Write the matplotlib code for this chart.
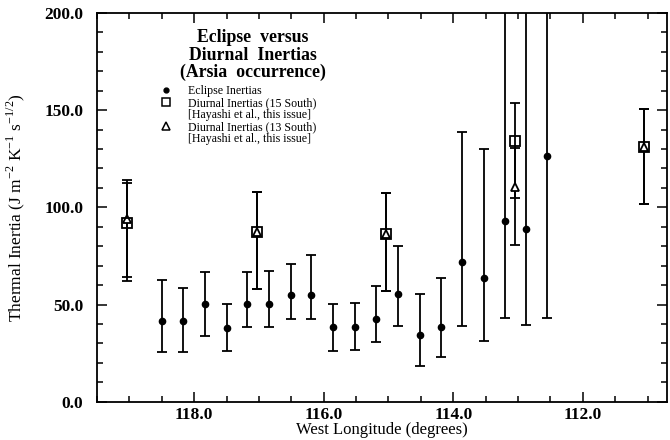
import matplotlib
matplotlib.use("Agg")
import matplotlib.pyplot as plt
from matplotlib.lines import Line2D
from matplotlib.ticker import MultipleLocator, FormatStrFormatter

plt.rcParams['font.family'] = ['Liberation Serif', 'DejaVu Serif']
plt.rcParams['mathtext.fontset'] = 'custom'
plt.rcParams['mathtext.rm'] = 'Liberation Serif'

# eclipse inertias (dots)
ecl_lon = [118.5, 118.17, 117.83, 117.5, 117.18, 116.84, 116.51, 116.19, 115.85,
           115.51, 115.19, 114.86, 114.51, 114.19, 113.87, 113.53, 113.2, 112.87, 112.56]
ecl_val = [41.6, 41.6, 50.2, 37.7, 50.5, 50.5, 54.8, 54.8, 38.2,
           38.5, 42.5, 55.3, 34.4, 38.5, 71.9, 63.9, 92.8, 89.0, 126.5]
ecl_hi = [62.4, 58.5, 66.7, 50.2, 66.7, 67.2, 71.0, 75.5, 50.5,
          50.8, 59.4, 79.9, 55.3, 63.7, 138.6, 130.0, 260.0, 260.0, 260.0]
ecl_lo = [25.7, 25.7, 33.9, 26.0, 38.2, 38.2, 42.5, 42.5, 26.3,
          26.5, 30.6, 38.9, 18.5, 22.8, 39.0, 31.0, 43.3, 39.4, 43.3]

# diurnal inertias, 15 South (squares)
d15_lon = [119.03, 117.03, 115.04, 113.04, 111.06]
d15_val = [92.0, 87.3, 86.4, 134.0, 130.9]
d15_hi = [112.4, 107.8, 107.3, 153.7, 150.6]
d15_lo = [62.1, 57.9, 57.0, 104.9, 101.5]

# diurnal inertias, 13 South (triangles)
d13_lon = [119.03, 117.03, 115.04, 113.04, 111.06]
d13_val = [94.0, 87.3, 86.4, 110.4, 130.9]
d13_hi = [114.3, 107.8, 107.3, 130.6, 150.6]
d13_lo = [64.2, 57.9, 57.0, 80.4, 101.5]


def errs(val, lo, hi):
    return [[v - l for v, l in zip(val, lo)], [h - v for v, h in zip(val, hi)]]


fig = plt.figure(figsize=(6.7, 4.4), dpi=100)
ax = fig.add_axes([97 / 670, 1 - 401.7 / 440, 570 / 670, 388.7 / 440])

ekw = dict(ecolor='k', elinewidth=1.3, capsize=3.5, capthick=1.3, linestyle='none')
ax.errorbar(ecl_lon, ecl_val, yerr=errs(ecl_val, ecl_lo, ecl_hi), fmt='o',
            color='k', markersize=4.5, **ekw)
ax.errorbar(d13_lon, d13_val, yerr=errs(d13_val, d13_lo, d13_hi), fmt='^',
            mfc='white', mec='k', mew=1.3, markersize=6, **ekw)
ax.errorbar(d15_lon, d15_val, yerr=errs(d15_val, d15_lo, d15_hi), fmt='s',
            mfc='none', mec='k', mew=1.3, markersize=6.5, **ekw)

ax.set_xlim(119.5, 110.7)
ax.set_ylim(0, 200)
ax.xaxis.set_major_locator(MultipleLocator(2))
ax.xaxis.set_minor_locator(MultipleLocator(0.5))
ax.yaxis.set_major_locator(MultipleLocator(50))
ax.yaxis.set_minor_locator(MultipleLocator(10))
ax.xaxis.set_major_formatter(FormatStrFormatter('%.1f'))
ax.yaxis.set_major_formatter(FormatStrFormatter('%.1f'))
ax.tick_params(which='both', direction='in', top=True, right=True, width=1.1)
ax.tick_params(which='major', length=7, labelsize=12.5)
ax.tick_params(which='minor', length=4)
ax.tick_params(axis='y', which='major', pad=10)
ax.tick_params(axis='x', which='major', pad=4)
for lab in ax.get_xticklabels() + ax.get_yticklabels():
    lab.set_fontweight('bold')
for s in ax.spines.values():
    s.set_linewidth(1.3)

ax.set_xlabel('West Longitude (degrees)', fontsize=12, labelpad=-1)
ax.set_ylabel('Thermal Inertia (J m$^{\\mathregular{-2}}$ K$^{\\mathregular{-1}}$ '
              's$^{\\mathregular{-1/2}}$)', fontsize=12.5, labelpad=12)

ax.text(0.274, 0.958, 'Eclipse  versus\nDiurnal  Inertias\n(Arsia  occurrence)',
        transform=ax.transAxes, ha='center', va='top', fontsize=12.8,
        fontweight='bold', linespacing=1.03)

blank = Line2D([], [], linestyle='none', marker='none')
handles = [Line2D([], [], linestyle='none', marker='o', color='k', markersize=3.5),
           Line2D([], [], linestyle='none', marker='s', mfc='none', mec='k', mew=1.1, markersize=6),
           blank,
           Line2D([], [], linestyle='none', marker='^', mfc='none', mec='k', mew=1.1, markersize=6),
           blank]
labels = ['Eclipse Inertias', 'Diurnal Inertias (15 South)', '[Hayashi et al., this issue]',
          'Diurnal Inertias (13 South)', '[Hayashi et al., this issue]']
ax.legend(handles, labels, loc='upper left', bbox_to_anchor=(0.108, 0.815),
          frameon=False, fontsize=8.6, labelspacing=0.0, handlelength=1.2,
          handletextpad=1.3, borderaxespad=0, borderpad=0)

fig.savefig('out.png', dpi=100)
